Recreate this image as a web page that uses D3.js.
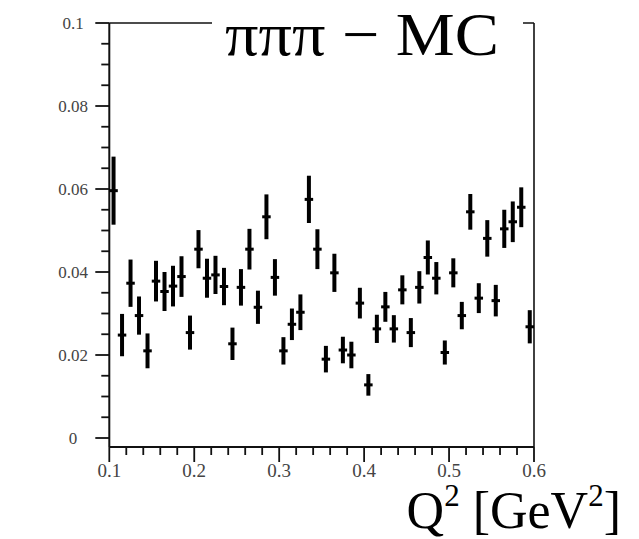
<!DOCTYPE html>
<html>
<head>
<meta charset="utf-8">
<script src="https://cdn.jsdelivr.net/npm/d3@7"></script>
<style>
  html, body { margin: 0; padding: 0; background: #fff; }
  svg { display: block; }
</style>
</head>
<body>
<svg id="chart" width="639" height="539"></svg>
<script>
// ---- data ----
const binCenters = [0.105,0.115,0.125,0.135,0.145,0.155,0.165,0.175,0.185,0.195,
                    0.205,0.215,0.225,0.235,0.245,0.255,0.265,0.275,0.285,0.295,
                    0.305,0.315,0.325,0.335,0.345,0.355,0.365,0.375,0.385,0.395,
                    0.405,0.415,0.425,0.435,0.445,0.455,0.465,0.475,0.485,0.495,
                    0.505,0.515,0.525,0.535,0.545,0.555,0.565,0.575,0.585,0.595];
const binHalfWidth = 0.005;
const values = [0.0596,0.0248,0.0373,0.0295,0.0210,0.0378,0.0353,0.0366,0.0389,0.0254,
                0.0455,0.0385,0.0393,0.0365,0.0227,0.0363,0.0455,0.0315,0.0533,0.0387,
                0.0210,0.0274,0.0303,0.0575,0.0455,0.0190,0.0398,0.0212,0.0200,0.0325,
                0.0128,0.0263,0.0316,0.0263,0.0357,0.0254,0.0363,0.0435,0.0385,0.0206,
                0.0398,0.0295,0.0545,0.0337,0.0481,0.0331,0.0504,0.0521,0.0556,0.0268];
const errors = [0.0082,0.0051,0.0057,0.0046,0.0042,0.0049,0.0047,0.0049,0.0049,0.0041,
                0.0046,0.0047,0.0046,0.0045,0.0039,0.0044,0.0049,0.0040,0.0054,0.0044,
                0.0033,0.0038,0.0043,0.0057,0.0048,0.0032,0.0046,0.0032,0.0032,0.0037,
                0.0026,0.0034,0.0036,0.0033,0.0035,0.0035,0.0039,0.0041,0.0039,0.0029,
                0.0035,0.0033,0.0043,0.0036,0.0044,0.0038,0.0046,0.0049,0.0048,0.0040];
const xTickLabels = ["0.1","0.2","0.3","0.4","0.5","0.6"];
const yTickLabels = ["0","0.02","0.04","0.06","0.08","0.1"];
const titleText = "πππ − MC";

// ---- layout ----
const svg = d3.select("#chart");
const X0 = 109.3, X1 = 534, YTOP = 23, YBOT = 447;
const x = d3.scaleLinear().domain([0.1, 0.6]).range([X0, X1]);
const y = d3.scaleLinear().domain([0, 0.1]).range([438, YTOP]);

const xMajor = xTickLabels.map(Number);
const xMinor = d3.range(0.12, 0.6, 0.02).filter(v => Math.abs(Math.round(v*10)-v*10) > 1e-6);
const yMajor = yTickLabels.map(Number);
const yMinor = d3.range(0.005, 0.1, 0.005).filter(v => Math.abs(Math.round(v*50)-v*50) > 1e-6);

const axisG = svg.append("g").attr("stroke", "#111");
axisG.append("line").attr("x1", X0).attr("x2", X0).attr("y1", YTOP).attr("y2", YBOT).attr("stroke-width", 2);
axisG.append("line").attr("x1", X0).attr("x2", X1).attr("y1", YBOT).attr("y2", YBOT).attr("stroke-width", 2);
axisG.append("line").attr("x1", X0).attr("x2", X1).attr("y1", YTOP).attr("y2", YTOP).attr("stroke-width", 1.6);
axisG.append("line").attr("x1", X1).attr("x2", X1).attr("y1", YTOP).attr("y2", YBOT).attr("stroke-width", 1.6);

axisG.selectAll(".ymaj").data(yMajor).enter().append("line")
  .attr("x1", X0 - 14).attr("x2", X0).attr("y1", d => y(d)).attr("y2", d => y(d)).attr("stroke-width", 1.8);
axisG.selectAll(".ymin").data(yMinor).enter().append("line")
  .attr("x1", X0 - 8).attr("x2", X0).attr("y1", d => y(d)).attr("y2", d => y(d)).attr("stroke-width", 1.8);
axisG.selectAll(".xmaj").data(xMajor).enter().append("line")
  .attr("x1", d => x(d)).attr("x2", d => x(d)).attr("y1", YBOT).attr("y2", YBOT + 15).attr("stroke-width", 1.8);
axisG.selectAll(".xmin").data(xMinor).enter().append("line")
  .attr("x1", d => x(d)).attr("x2", d => x(d)).attr("y1", YBOT).attr("y2", YBOT + 8).attr("stroke-width", 1.8);

svg.selectAll(".ylab").data(yTickLabels).enter().append("text")
  .attr("x", 73).attr("y", d => y(+d) + 6)
  .attr("text-anchor", "middle")
  .attr("font-family", "Liberation Serif, serif").attr("font-size", 17)
  .attr("fill", "#444").text(d => d);
svg.selectAll(".xlab").data(xTickLabels).enter().append("text")
  .attr("x", d => x(+d)).attr("y", 477)
  .attr("text-anchor", "middle")
  .attr("font-family", "Liberation Serif, serif").attr("font-size", 19)
  .attr("fill", "#444").text(d => d);

const pts = values.map((v, i) => ({x: binCenters[i], v, e: errors[i]}));
const pg = svg.append("g").attr("stroke", "#000");
pg.selectAll(".ev").data(pts).enter().append("line")
  .attr("x1", d => x(d.x)).attr("x2", d => x(d.x))
  .attr("y1", d => y(d.v + d.e)).attr("y2", d => y(d.v - d.e))
  .attr("stroke-width", 4);
pg.selectAll(".eh").data(pts).enter().append("line")
  .attr("x1", d => x(d.x - binHalfWidth)).attr("x2", d => x(d.x + binHalfWidth))
  .attr("y1", d => y(d.v)).attr("y2", d => y(d.v))
  .attr("stroke-width", 3);

svg.append("rect").attr("x", 212).attr("y", 0).attr("width", 311).attr("height", 60).attr("fill", "#fff");
svg.append("text").attr("x", 225).attr("y", 55)
  .attr("textLength", 274).attr("lengthAdjust", "spacingAndGlyphs")
  .attr("font-family", "Liberation Serif, serif").attr("font-size", 61)
  .attr("fill", "#000").text(titleText);

const xl = svg.append("text").attr("x", 621).attr("y", 528).attr("text-anchor", "end")
  .attr("font-family", "Liberation Serif, serif").attr("font-size", 52).attr("fill", "#000");
xl.append("tspan").text("Q");
xl.append("tspan").attr("font-size", 31).attr("dy", -22).text("2");
xl.append("tspan").attr("dy", 22).text(" [GeV");
xl.append("tspan").attr("font-size", 31).attr("dy", -22).text("2");
xl.append("tspan").attr("dy", 22).text("]");
</script>
</body>
</html>
